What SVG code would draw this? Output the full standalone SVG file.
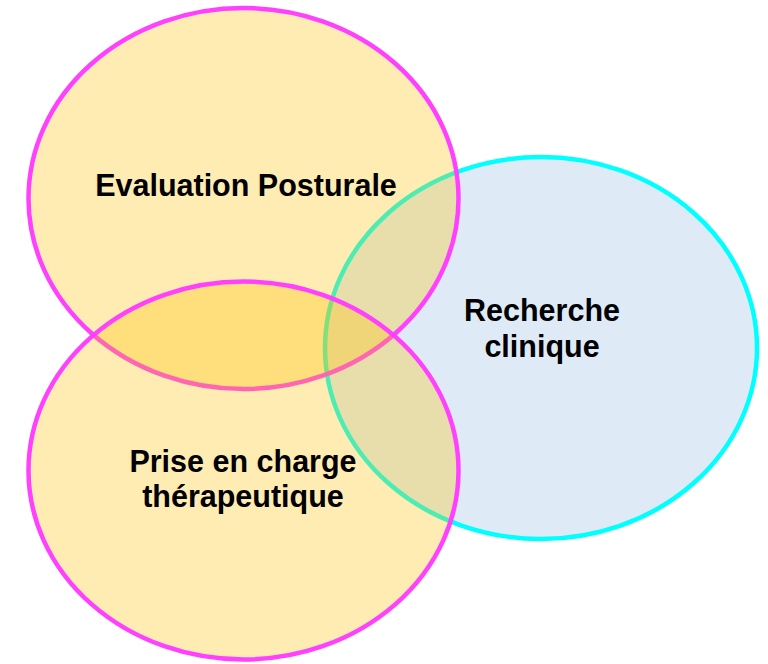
<svg xmlns="http://www.w3.org/2000/svg" width="768" height="664" viewBox="0 0 768 664">
<style>
.yel{fill:#FFC000;fill-opacity:0.3;stroke:#FF40FF;stroke-width:4.5}
.blu{fill:#DEEBF7;stroke:#00FFFF;stroke-width:4.5}
.t{font-family:"Liberation Sans",Arial,sans-serif;font-weight:bold;font-size:30.5px;fill:#000;text-anchor:middle}
</style>
<rect width="768" height="664" fill="#fff"/>
<g id="recherche">
<ellipse class="blu" cx="541" cy="348" rx="216" ry="191"/>
</g>
<g id="evaluation">
<ellipse class="yel" cx="243.5" cy="198.5" rx="215" ry="190.5"/>
</g>
<g id="prise">
<ellipse class="yel" cx="243.5" cy="470.5" rx="215" ry="189"/>
</g>
<g id="labels">
<text class="t" x="246" y="196">Evaluation Posturale</text>
<text class="t" x="542" y="321">Recherche</text>
<text class="t" x="542" y="357">clinique</text>
<text class="t" x="243" y="472">Prise en charge</text>
<text class="t" x="243" y="507">thérapeutique</text>
</g>
</svg>
